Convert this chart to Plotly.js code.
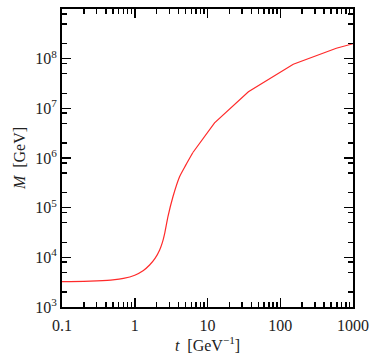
<!DOCTYPE html>
<html>
<head>
<meta charset="utf-8">
<script src="https://cdn.plot.ly/plotly-3.0.1.min.js"></script>
<style>
  html, body { margin: 0; padding: 0; background: #fff; }
  #chart { width: 374px; height: 359px; }
</style>
</head>
<body>
<div id="chart"></div>
<script>
// time t [GeV^-1] and mass M [GeV]
const tValues = [0.1, 0.2, 0.3, 0.5, 0.7, 1.0, 1.3, 1.6, 1.9, 2.2, 2.4, 2.58, 2.86, 3.35, 4.13, 5.0, 6.3, 12.5, 36.5, 151, 590, 1000];
const massValues = [3.23e3, 3.27e3, 3.35e3, 3.51e3, 3.76e3, 4.37e3, 5.37e3, 7.0e3, 9.5e3, 1.41e4, 2.0e4, 3.05e4, 6.6e4, 1.66e5, 4.2e5, 7.1e5, 1.29e6, 5.1e6, 2.16e7, 7.7e7, 1.62e8, 2.0e8];
// above this t the curve is drawn as straight segments
const tSmoothEnd = 6.3;

// tick labels
const xTickVals = [0.1, 1, 10, 100, 1000];
const xTickText = ['0.1', '1', '10', '100', '1000'];
const yExponents = [3, 4, 5, 6, 7, 8, 9];
const yMinorDigits = [2, 5, 8];

const yTickVals = yExponents.map(e => Math.pow(10, e));
const yTickText = yExponents.map(e => '10<sup>' + e + '</sup>');

const xMinor = [];
for (let e = -1; e < 3; e++) {
    for (let d = 2; d <= 9; d++) xMinor.push(d * Math.pow(10, e));
}
const yMinor = [];
for (let e = 3; e < 9; e++) {
    yMinorDigits.forEach(d => yMinor.push(d * Math.pow(10, e)));
}

const font = { family: 'Liberation Serif, DejaVu Serif, serif', size: 16, color: '#222' };

const axisBase = {
    type: 'log',
    showgrid: false,
    zeroline: false,
    showline: true,
    linecolor: '#000',
    linewidth: 2,
    mirror: 'ticks',
    ticks: 'inside',
    ticklen: 9,
    tickwidth: 1.5,
    tickcolor: '#000',
    tickmode: 'array',
    tickfont: font
};

// split the curve: smooth rise, then the sparse straight-line tail
const iSplit = tValues.indexOf(tSmoothEnd);
const lineStyle = { color: '#ff2a2a', width: 1.2 };

const traces = [
    {
        x: tValues.slice(0, iSplit + 1),
        y: massValues.slice(0, iSplit + 1),
        type: 'scatter',
        mode: 'lines',
        line: { ...lineStyle, shape: 'spline', smoothing: 0.6 }
    },
    {
        x: tValues.slice(iSplit),
        y: massValues.slice(iSplit),
        type: 'scatter',
        mode: 'lines',
        line: { ...lineStyle, shape: 'linear' }
    }
];

const layout = {
    width: 374,
    height: 359,
    margin: { l: 62, r: 21, t: 9, b: 52 },
    paper_bgcolor: '#fff',
    plot_bgcolor: '#fff',
    font: font,
    showlegend: false,
    xaxis: {
        ...axisBase,
        range: [-1, 3],
        tickvals: xTickVals,
        ticktext: xTickText,
        ticklabelstandoff: 3,
        minor: { tickmode: 'array', tickvals: xMinor, ticks: 'inside', ticklen: 5, tickwidth: 1.5, tickcolor: '#000' },
        title: { text: '<i>t</i>  [GeV<sup>−1</sup>]', font: font, standoff: 4 }
    },
    yaxis: {
        ...axisBase,
        range: [3, 9],
        tickvals: yTickVals,
        ticktext: yTickText,
        minor: { tickmode: 'array', tickvals: yMinor, ticks: 'inside', ticklen: 5, tickwidth: 1.5, tickcolor: '#000' },
        title: { text: '<i>M</i>  [GeV]', font: font, standoff: 6 }
    }
};

Plotly.newPlot('chart', traces, layout, { staticPlot: true, displayModeBar: false });
</script>
</body>
</html>
